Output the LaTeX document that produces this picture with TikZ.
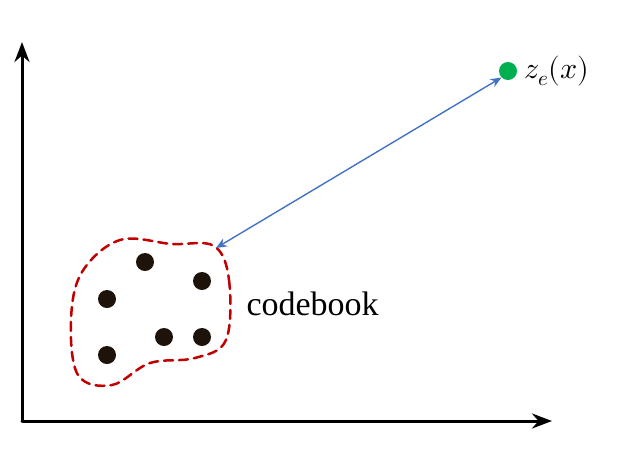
\documentclass[tikz,border=0pt]{standalone}
\usepackage{fontspec}
\usepackage{unicode-math}
\setmainfont{Liberation Serif}
\setmathfont{Latin Modern Math}
\usetikzlibrary{arrows.meta}
\colorlet{dot_col}{black!85!brown}
\definecolor{blob_col}{HTML}{C00000}
\definecolor{link_col}{HTML}{4472C4}
\definecolor{pt_col}{HTML}{00B050}
\tikzset{
  axis/.style={line width=3pt,-{Stealth[length=20pt,width=15pt]}},
  code/.style={circle,fill=dot_col,inner sep=0pt,minimum size=18pt},
}
\begin{document}
\begin{tikzpicture}[x=1pt,y=-1pt,line cap=round,line join=round]
\useasboundingbox (0,0) rectangle (626,472);

% axes
\coordinate (O) at (22,421);
\coordinate (Ytop) at (22,42);
\coordinate (Xend) at (552,421);
\draw[axis] (O) -- (Ytop);
\draw[axis] (O) -- (Xend);

% codebook region
\draw[blob_col,line width=2.5pt,dash pattern=on 9pt off 6pt]
  plot[smooth cycle,tension=0.6] coordinates {(214,246) (229,280) (226,340) (195,358) (150,363) (112,385) (78,375) (71,320) (82,272) (120,240) (172,244)};

% code vectors
\foreach \name/\pos in {c1/{(145,262)},c2/{(202,281)},c3/{(107,299)},c4/{(164,337)},c5/{(202,337)},c6/{(107,355)}}
{
  \node[code] (\name) at \pos {};
}
\node[anchor=west,font=\fontsize{34}{40}\selectfont] (cb) at (243,304) {codebook};

% encoder output
\node[circle,fill=pt_col,inner sep=0pt,minimum size=18pt] (ze) at (508,71) {};
\node[anchor=west,font=\fontsize{30}{36}\selectfont] (zel) at (521,71) {$z_e(x)$};
\coordinate (near) at (216,248);
\draw[link_col,line width=1.4pt,{Stealth[length=11pt,width=9pt]}-{Stealth[length=11pt,width=9pt]}] (near) -- (ze.south west);
\end{tikzpicture}
\end{document}
